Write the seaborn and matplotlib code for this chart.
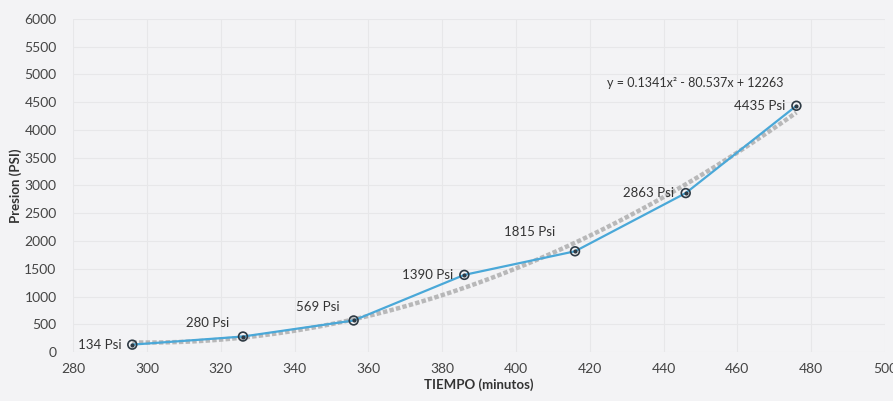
import numpy as np
import pandas as pd
import seaborn as sns
import matplotlib
matplotlib.use('Agg')
import matplotlib.pyplot as plt

# data
tiempo = [296, 326, 356, 386, 416, 446, 476]
presion = [134, 280, 569, 1390, 1815, 2863, 4435]
etiquetas = ['134 Psi', '280 Psi', '569 Psi', '1390 Psi', '1815 Psi', '2863 Psi', '4435 Psi']
# offsets (points) for each label relative to its point
offsets = [(-8, 0), (-10, 10), (-10, 10), (-8, 0), (-14, 14), (-8, 0), (-8, 0)]
ecuacion = 'y = 0.1341x² - 80.537x + 12263'

df = pd.DataFrame({'tiempo': tiempo, 'presion': presion})

sns.set_style('whitegrid')
plt.rcParams['font.family'] = ['Lato', 'DejaVu Sans']

fig = plt.figure(figsize=(8.93, 4.01), dpi=100, facecolor='#f3f3f5')
ax = fig.add_axes([0.082, 0.122, 0.909, 0.831])
ax.set_facecolor('#f3f3f5')

# polynomial trendline (order 2)
sns.regplot(data=df, x='tiempo', y='presion', order=2, ci=None, scatter=False,
            line_kws=dict(color='#a5a5a5', lw=3.2, ls=(0, (1, 0.5)), alpha=0.75), ax=ax)

sns.lineplot(data=df, x='tiempo', y='presion', color='#4aa8d8', lw=1.6, ax=ax)
ax.scatter(tiempo, presion, s=40, facecolor='none', edgecolor='#2e3a44', lw=1.2, zorder=5)
ax.scatter(tiempo, presion, s=4, color='#2e3a44', zorder=6)

for x, y, t, off in zip(tiempo, presion, etiquetas, offsets):
    ax.annotate(t, (x, y), xytext=off, textcoords='offset points',
                ha='right', va='center', fontsize=9.5, color='#333333')

ax.text(448.5, 4850, ecuacion, ha='center', va='center', fontsize=9, color='#333333')

ax.set_xlim(280, 500)
ax.set_ylim(0, 6000)
ax.set_xticks(np.arange(280, 501, 20))
ax.set_yticks(np.arange(0, 6001, 500))
ax.tick_params(axis='both', labelsize=10, colors='#444444', length=0)
ax.tick_params(axis='x', pad=8)
ax.tick_params(axis='y', pad=12)
ax.grid(True, color='#e7e7e9', lw=0.8)
for s in ax.spines.values():
    s.set_visible(False)

ax.set_xlabel('TIEMPO (minutos)', fontsize=9.5, fontweight='bold', color='#333333', labelpad=2)
ax.set_ylabel('Presion (PSI)', fontsize=9.5, fontweight='bold', color='#333333', labelpad=2)

fig.savefig('out.png', dpi=100, facecolor=fig.get_facecolor())
